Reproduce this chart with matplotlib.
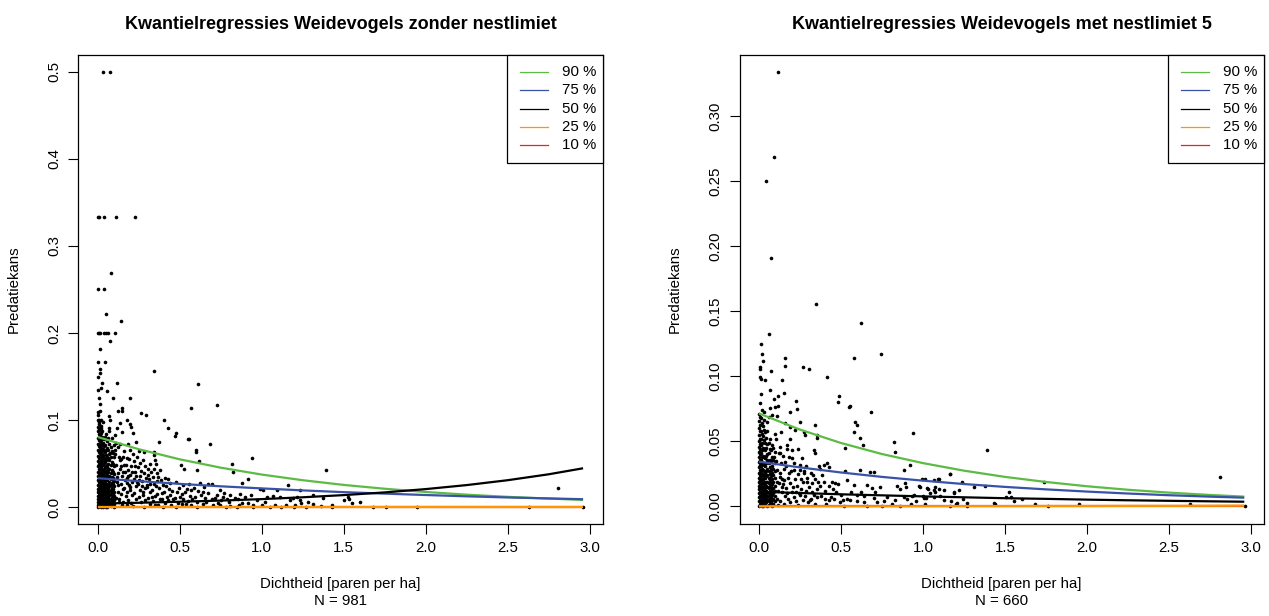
import numpy as np
import matplotlib
matplotlib.use("Agg")
import matplotlib.pyplot as plt

plt.rcParams['font.family'] = ['Liberation Sans', 'DejaVu Sans']

# ---------------------------------------------------------------- data
quantile_labels = ["90 %", "75 %", "50 %", "25 %", "10 %"]
quantile_colors = ["#5cbb45", "#3a52a6", "#000000", "#ff9600", "#e0252e"]

x_ticks = [0.0, 0.5, 1.0, 1.5, 2.0, 2.5, 3.0]
x_tick_labels = ["0.0", "0.5", "1.0", "1.5", "2.0", "2.5", "3.0"]
y_ticks_left = [0.0, 0.1, 0.2, 0.3, 0.4, 0.5]
y_tick_labels_left = ["0.0", "0.1", "0.2", "0.3", "0.4", "0.5"]
y_ticks_right = [0.0, 0.05, 0.10, 0.15, 0.20, 0.25, 0.30]
y_tick_labels_right = ["0.00", "0.05", "0.10", "0.15", "0.20", "0.25", "0.30"]

# fitted quantile curves, sampled along the density axis
curve_x = [0.0, 0.25, 0.5, 0.75, 1.0, 1.25, 1.5, 1.75, 2.0, 2.25, 2.5, 2.75, 2.96]

left_q90 = [0.0806, 0.0666, 0.0550, 0.0454, 0.0375, 0.0310, 0.0256, 0.0212, 0.0175, 0.0144, 0.0119, 0.0099, 0.0084]
left_q75 = [0.0333, 0.0299, 0.0268, 0.0240, 0.0216, 0.0193, 0.0173, 0.0156, 0.0140, 0.0125, 0.0112, 0.0101, 0.0092]
left_q50 = [0.0042, 0.0051, 0.0063, 0.0076, 0.0093, 0.0114, 0.0139, 0.0170, 0.0208, 0.0254, 0.0310, 0.0378, 0.0447]
left_q25 = [0.0, 0.0, 0.0, 0.0, 0.0, 0.0, 0.0, 0.0, 0.0, 0.0, 0.0, 0.0, 0.0]
left_q10 = [0.0, 0.0, 0.0, 0.0, 0.0, 0.0, 0.0, 0.0, 0.0, 0.0, 0.0, 0.0, 0.0]

right_q90 = [0.0715, 0.0591, 0.0488, 0.0403, 0.0333, 0.0275, 0.0227, 0.0188, 0.0155, 0.0128, 0.0106, 0.0088, 0.0075]
right_q75 = [0.0344, 0.0300, 0.0261, 0.0227, 0.0198, 0.0172, 0.0150, 0.0131, 0.0114, 0.0099, 0.0086, 0.0075, 0.0067]
right_q50 = [0.0113, 0.0103, 0.0093, 0.0085, 0.0077, 0.0070, 0.0063, 0.0058, 0.0052, 0.0047, 0.0043, 0.0039, 0.0036]
right_q25 = [0.0, 0.0, 0.0001, 0.0001, 0.0001, 0.0002, 0.0002, 0.0003, 0.0003, 0.0004, 0.0004, 0.0005, 0.0006]
right_q10 = [0.0, 0.0, 0.0, 0.0, 0.0, 0.0, 0.0, 0.0, 0.0, 0.0, 0.0, 0.0, 0.0]

# observations without nest limit (N = 981)
left_upper = [
    (0.030, 0.5), (0.072, 0.5),
    (0.0, 0.3333), (0.01, 0.3333), (0.04, 0.3333), (0.11, 0.3333), (0.23, 0.3333),
    (0.082, 0.269), (0.004, 0.25), (0.036, 0.25), (0.048, 0.222), (0.144, 0.214),
    (0.0, 0.2), (0.006, 0.2), (0.012, 0.2), (0.038, 0.2), (0.048, 0.2), (0.062, 0.2), (0.106, 0.2),
    (0.072, 0.191), (0.014, 0.182), (0.004, 0.167), (0.042, 0.167), (0.014, 0.159), (0.014, 0.154),
    (0.341, 0.156), (0.0, 0.149), (0.026, 0.143), (0.12, 0.143), (0.611, 0.141), (0.02, 0.137),
    (0.004, 0.135), (0.056, 0.133), (0.01, 0.125), (0.096, 0.125), (0.194, 0.125), (0.016, 0.119),
    (0.73, 0.117), (0.571, 0.114), (0.146, 0.114), (0.016, 0.111), (0.126, 0.111), (0.15, 0.110),
    (0.263, 0.108), (0.295, 0.106), (0.004, 0.109), (0.004, 0.106), (0.068, 0.105), (0.072, 0.1),
    (0.0, 0.1), (0.01, 0.1), (0.02, 0.1), (0.18, 0.1), (0.403, 0.1), (0.006, 0.098), (0.032, 0.098),
    (0.134, 0.097), (0.194, 0.095), (0.204, 0.0925), (0.427, 0.0915), (0.0, 0.0925), (0.02, 0.091),
    (0.066, 0.0905),
]
left_spread = [
    (0.12, 0.091), (0.018, 0.089), (0.071, 0.088), (0.146, 0.086), (0.106, 0.083), (0.217, 0.085),
    (0.478, 0.0847), (0.47, 0.0816), (0.549, 0.0778), (0.559, 0.0778), (0.683, 0.072), (0.374, 0.0743),
    (0.183, 0.073), (0.233, 0.075), (0.598, 0.066), (0.598, 0.063), (0.345, 0.063), (0.341, 0.06),
    (0.252, 0.065), (0.28, 0.063), (0.62, 0.053), (0.817, 0.05), (0.939, 0.0567), (0.508, 0.048),
    (0.524, 0.044), (0.604, 0.0425), (0.825, 0.041), (0.878, 0.028), (0.919, 0.032), (0.672, 0.027),
    (0.697, 0.027), (0.624, 0.028), (1.392, 0.0425), (0.35, 0.054), (0.355, 0.05), (0.345, 0.044),
    (0.32, 0.05), (0.258, 0.051), (0.38, 0.0425), (0.36, 0.039), (0.412, 0.033), (0.429, 0.032),
    (0.441, 0.028), (0.522, 0.025), (0.543, 0.021), (0.569, 0.0195), (0.614, 0.019), (0.644, 0.0176),
    (0.726, 0.0138), (0.766, 0.012), (0.807, 0.0138), (0.868, 0.0157), (0.898, 0.012), (0.933, 0.0138),
    (0.99, 0.021), (1.006, 0.02), (1.03, 0.012), (1.091, 0.0195), (1.112, 0.012), (1.173, 0.008),
    (1.193, 0.011), (1.234, 0.008), (1.285, 0.006), (1.315, 0.0138), (1.376, 0.0107), (1.431, 0.0027),
    (1.5, 0.008), (1.53, 0.01), (1.162, 0.025), (1.236, 0.0203), (1.528, 0.0118), (1.549, 0.0054),
    (1.6, 0.0065), (1.071, 0.0126), (1.217, 0.0118), (1.24, 0.0054), (1.203, 0.003), (2.809, 0.0226),
    (0.197, 0.023), (0.238, 0.029), (0.278, 0.0176), (0.299, 0.023), (0.095, 0.031), (0.126, 0.025),
    (0.157, 0.021), (0.177, 0.028), (0.055, 0.046), (0.085, 0.041), (0.116, 0.035), (0.136, 0.054),
    (0.035, 0.058), (0.075, 0.062), (0.106, 0.066), (0.126, 0.069),
    (0.108, 0.061), (0.113, 0.048), (0.121, 0.039), (0.117, 0.029), (0.124, 0.018), (0.111, 0.011),
    (0.128, 0.006), (0.138, 0.072), (0.142, 0.055), (0.133, 0.044), (0.147, 0.036), (0.139, 0.027),
    (0.144, 0.015), (0.131, 0.009), (0.149, 0.003), (0.158, 0.064), (0.163, 0.049), (0.152, 0.04),
    (0.167, 0.031), (0.159, 0.022), (0.171, 0.013), (0.155, 0.006), (0.178, 0.057), (0.183, 0.043),
    (0.176, 0.034), (0.188, 0.026), (0.181, 0.017), (0.186, 0.008), (0.179, 0.002), (0.196, 0.066),
    (0.203, 0.047), (0.199, 0.037), (0.208, 0.029), (0.194, 0.02), (0.211, 0.014), (0.205, 0.005),
    (0.222, 0.053), (0.228, 0.041), (0.219, 0.032), (0.231, 0.024), (0.224, 0.016), (0.236, 0.009),
    (0.218, 0.001), (0.247, 0.046), (0.255, 0.036), (0.244, 0.027), (0.259, 0.02), (0.251, 0.012),
    (0.262, 0.006), (0.276, 0.054), (0.283, 0.039), (0.272, 0.03), (0.288, 0.022), (0.279, 0.014),
    (0.291, 0.008), (0.284, 0.0), (0.305, 0.044), (0.312, 0.032), (0.302, 0.025), (0.318, 0.017),
    (0.309, 0.011), (0.321, 0.004), (0.336, 0.035), (0.343, 0.027), (0.333, 0.02), (0.348, 0.013),
    (0.339, 0.007), (0.351, 0.002), (0.364, 0.03), (0.372, 0.022), (0.361, 0.015), (0.377, 0.009),
    (0.368, 0.003), (0.396, 0.026), (0.404, 0.018), (0.392, 0.01), (0.409, 0.005), (0.399, 0.0),
    (0.436, 0.021), (0.443, 0.014), (0.431, 0.008), (0.448, 0.003), (0.476, 0.029), (0.483, 0.017),
    (0.471, 0.011), (0.488, 0.005), (0.479, 0.0), (0.516, 0.015), (0.523, 0.009), (0.511, 0.004),
    (0.556, 0.027), (0.562, 0.013), (0.551, 0.007), (0.567, 0.002), (0.596, 0.012), (0.603, 0.006),
    (0.607, 0.0), (0.646, 0.023), (0.652, 0.011), (0.641, 0.004), (0.697, 0.009), (0.704, 0.003),
    (0.745, 0.02), (0.752, 0.008), (0.748, 0.002), (0.798, 0.006), (0.806, 0.001), (0.857, 0.009),
    (0.864, 0.003), (0.918, 0.005), (0.97, 0.008), (1.0, 0.003),
    (0.78, 0.0), (0.85, 0.0), (0.95, 0.0), (1.05, 0.0), (1.12, 0.0), (1.2, 0.0), (1.27, 0.0),
    (1.43, 0.0), (1.68, 0.0), (1.76, 0.0), (1.95, 0.0), (2.63, 0.0), (2.96, 0.0),
    (0.114, 0.074), (0.129, 0.058), (0.141, 0.047), (0.153, 0.058), (0.165, 0.041), (0.174, 0.048),
    (0.186, 0.036), (0.192, 0.055), (0.207, 0.04), (0.214, 0.061), (0.226, 0.047), (0.232, 0.036),
    (0.241, 0.058), (0.249, 0.031), (0.266, 0.042), (0.269, 0.024), (0.287, 0.047), (0.294, 0.034),
    (0.308, 0.037), (0.316, 0.027), (0.328, 0.041), (0.331, 0.012), (0.357, 0.024), (0.366, 0.035),
    (0.385, 0.031), (0.389, 0.016), (0.416, 0.024), (0.421, 0.012), (0.455, 0.019), (0.462, 0.009),
    (0.497, 0.022), (0.502, 0.012), (0.535, 0.017), (0.539, 0.004), (0.578, 0.009), (0.588, 0.022),
    (0.632, 0.014), (0.661, 0.006), (0.673, 0.016), (0.714, 0.011), (0.732, 0.005), (0.772, 0.016),
    (0.789, 0.009), (0.835, 0.011), (0.882, 0.005), (0.946, 0.003), (1.02, 0.006), (1.08, 0.003),
    (1.15, 0.002), (1.31, 0.004), (1.36, 0.001),
]
left_core = {
    0.002: [0.087, 0.079, 0.072, 0.066, 0.059, 0.053, 0.047, 0.041, 0.036, 0.031, 0.026, 0.021, 0.017, 0.013, 0.009, 0.006, 0.003, 0.0],
    0.007: [0.095, 0.09, 0.084, 0.077, 0.07, 0.063, 0.057, 0.05, 0.044, 0.039, 0.034, 0.029, 0.024, 0.019, 0.014, 0.01, 0.005, 0.002],
    0.012: [0.083, 0.076, 0.069, 0.062, 0.056, 0.05, 0.044, 0.038, 0.033, 0.028, 0.023, 0.019, 0.015, 0.011, 0.007, 0.004, 0.001],
    0.017: [0.093, 0.08, 0.073, 0.067, 0.06, 0.053, 0.047, 0.041, 0.036, 0.031, 0.026, 0.021, 0.017, 0.013, 0.009, 0.003, 0.0],
    0.022: [0.085, 0.077, 0.07, 0.064, 0.057, 0.051, 0.045, 0.039, 0.034, 0.029, 0.024, 0.02, 0.016, 0.012, 0.008, 0.005, 0.002],
    0.027: [0.088, 0.081, 0.073, 0.066, 0.061, 0.055, 0.049, 0.043, 0.038, 0.033, 0.028, 0.023, 0.018, 0.014, 0.01, 0.006, 0.001],
    0.033: [0.074, 0.067, 0.06, 0.054, 0.048, 0.042, 0.037, 0.032, 0.027, 0.022, 0.018, 0.014, 0.01, 0.006, 0.003, 0.0],
    0.039: [0.078, 0.07, 0.064, 0.057, 0.051, 0.044, 0.039, 0.034, 0.029, 0.024, 0.019, 0.015, 0.011, 0.007, 0.003],
    0.045: [0.081, 0.071, 0.063, 0.052, 0.046, 0.04, 0.035, 0.03, 0.025, 0.02, 0.016, 0.011, 0.007, 0.004, 0.001],
    0.051: [0.084, 0.066, 0.06, 0.054, 0.047, 0.041, 0.036, 0.031, 0.027, 0.022, 0.017, 0.013, 0.009, 0.005, 0.0],
    0.058: [0.076, 0.068, 0.058, 0.049, 0.043, 0.037, 0.031, 0.026, 0.021, 0.016, 0.012, 0.008, 0.004, 0.0],
    0.064: [0.079, 0.066, 0.057, 0.05, 0.041, 0.033, 0.027, 0.022, 0.017, 0.012, 0.007, 0.003],
    0.07: [0.072, 0.061, 0.054, 0.044, 0.036, 0.029, 0.024, 0.019, 0.014, 0.009, 0.005, 0.002],
    0.078: [0.069, 0.058, 0.048, 0.039, 0.032, 0.026, 0.02, 0.015, 0.01, 0.006, 0.001],
    0.085: [0.079, 0.065, 0.052, 0.043, 0.035, 0.028, 0.022, 0.017, 0.012, 0.007, 0.003],
    0.092: [0.062, 0.05, 0.041, 0.033, 0.027, 0.021, 0.015, 0.01, 0.005, 0.002],
    0.1: [0.071, 0.058, 0.047, 0.038, 0.03, 0.024, 0.018, 0.013, 0.008, 0.004, 0.0],
}

# observations with nest limit 5 (N = 660)
right_upper = [
    (0.118, 0.3345), (0.089, 0.269), (0.043, 0.2506), (0.075, 0.191), (0.35, 0.156), (0.624, 0.141),
    (0.059, 0.133), (0.014, 0.125), (0.02, 0.1176), (0.022, 0.1117), (0.157, 0.114), (0.581, 0.114),
    (0.744, 0.117), (0.006, 0.107), (0.006, 0.1058), (0.159, 0.1083), (0.27, 0.107), (0.303, 0.1055),
    (0.073, 0.104), (0.413, 0.0999), (0.008, 0.0999), (0.01, 0.0978), (0.037, 0.097), (0.14, 0.097),
    (0.01, 0.0863), (0.069, 0.0894), (0.089, 0.0824), (0.116, 0.0853), (0.15, 0.087), (0.226, 0.0814),
    (0.486, 0.0847), (0.48, 0.0806), (0.551, 0.0768), (0.557, 0.0773), (0.008, 0.0794), (0.067, 0.0755),
    (0.116, 0.077), (0.232, 0.0747),
]
right_spread = [
    (0.1, 0.0768), (0.018, 0.0742), (0.028, 0.073), (0.187, 0.0724), (0.685, 0.0724), (0.059, 0.069),
    (0.079, 0.0704), (0.11, 0.0697), (0.028, 0.0665), (0.049, 0.0653), (0.161, 0.0645), (0.252, 0.0653),
    (0.191, 0.0614), (0.222, 0.0588), (0.343, 0.0627), (0.272, 0.0576), (0.283, 0.055), (0.354, 0.055),
    (0.354, 0.0524), (0.589, 0.0653), (0.598, 0.0627), (0.577, 0.0576), (0.618, 0.0524), (0.634, 0.0473),
    (0.941, 0.0563), (0.821, 0.0499), (0.827, 0.0422), (0.923, 0.032), (0.882, 0.028), (1.394, 0.0435),
    (0.526, 0.0447), (0.333, 0.0435), (0.343, 0.0409), (0.171, 0.0473), (0.201, 0.0435), (0.13, 0.0409),
    (0.181, 0.0383), (0.089, 0.0383), (0.049, 0.0358), (0.024, 0.0332), (0.415, 0.0332), (0.425, 0.0306),
    (0.394, 0.0319), (0.364, 0.0314), (0.374, 0.0286), (0.528, 0.0276), (0.618, 0.028), (0.679, 0.0268),
    (0.699, 0.0268), (0.252, 0.028), (0.272, 0.0255), (0.293, 0.0191), (0.323, 0.0178), (0.394, 0.0191),
    (0.445, 0.0191), (0.465, 0.0178), (0.537, 0.0204), (0.577, 0.0165), (0.659, 0.0165), (0.689, 0.0145),
    (0.74, 0.0147), (0.841, 0.0158), (0.862, 0.0132), (0.974, 0.0158), (1.024, 0.014), (1.075, 0.0147),
    (1.065, 0.0204), (1.095, 0.0209), (1.126, 0.0127), (1.187, 0.0114), (1.238, 0.0191), (1.309, 0.0153),
    (1.38, 0.0158), (1.167, 0.025), (0.13, 0.0229), (0.15, 0.0204), (0.12, 0.0178), (0.14, 0.0153),
    (0.171, 0.0101), (0.211, 0.0076), (0.252, 0.0088), (0.313, 0.005), (0.354, 0.0076), (0.425, 0.005),
    (0.455, 0.006), (0.496, 0.0037), (0.557, 0.005), (0.598, 0.0088), (0.638, 0.0037), (0.699, 0.0063),
    (0.78, 0.0076), (0.831, 0.005), (0.882, 0.0076), (0.943, 0.0088), (1.004, 0.0063), (1.065, 0.0076),
    (1.126, 0.005), (1.207, 0.0024), (1.268, 0.0024), (1.431, 0.0024),
    (2.813, 0.0224), (0.89, 0.0178), (0.898, 0.0153), (0.994, 0.0214), (1.01, 0.0209), (0.98, 0.0153),
    (1.096, 0.0209), (1.165, 0.0247), (1.74, 0.0186), (1.034, 0.0132), (1.065, 0.0127), (1.096, 0.0132),
    (1.075, 0.0114), (1.045, 0.0101), (1.106, 0.0083), (0.933, 0.0083), (0.959, 0.0045), (1.0, 0.0083),
    (1.02, 0.0063), (1.187, 0.0101), (1.22, 0.0127), (1.244, 0.0055), (1.173, 0.0045), (1.528, 0.0114),
    (1.504, 0.007), (1.537, 0.0076), (1.553, 0.0045), (1.602, 0.0055), (1.437, 0.0017), (1.683, 0.0017),
    (1.953, 0.0017), (2.63, 0.0017), (2.965, 0.0), (0.902, 0.0058), (1.012, 0.002), (0.927, 0.002),
    (1.203, 0.002), (1.163, 0.0), (1.268, 0.0), (1.766, 0.0),
    (0.105, 0.035), (0.112, 0.028), (0.108, 0.019), (0.117, 0.012), (0.111, 0.006), (0.119, 0.001),
    (0.126, 0.046), (0.134, 0.033), (0.128, 0.026), (0.138, 0.011), (0.131, 0.004), (0.146, 0.039),
    (0.155, 0.029), (0.149, 0.017), (0.158, 0.008), (0.152, 0.002), (0.168, 0.031), (0.175, 0.022),
    (0.166, 0.014), (0.179, 0.006), (0.189, 0.052), (0.196, 0.027), (0.187, 0.018), (0.199, 0.011),
    (0.192, 0.003), (0.213, 0.033), (0.219, 0.021), (0.208, 0.015), (0.224, 0.004), (0.236, 0.044),
    (0.241, 0.025), (0.233, 0.016), (0.246, 0.01), (0.239, 0.001), (0.262, 0.037), (0.268, 0.019),
    (0.259, 0.013), (0.271, 0.005), (0.288, 0.031), (0.296, 0.022), (0.285, 0.012), (0.301, 0.003),
    (0.318, 0.026), (0.326, 0.011), (0.315, 0.006), (0.345, 0.021), (0.352, 0.013), (0.34, 0.002),
    (0.372, 0.016), (0.381, 0.008), (0.4, 0.012), (0.41, 0.002), (0.43, 0.016), (0.44, 0.007),
    (0.47, 0.011), (0.5, 0.009), (0.52, 0.0), (0.54, 0.006), (0.6, 0.004), (0.62, 0.011),
    (0.66, 0.0), (0.72, 0.003), (0.75, 0.0), (0.81, 0.002), (0.86, 0.0),
    (0.103, 0.052), (0.121, 0.041), (0.137, 0.057), (0.143, 0.021), (0.161, 0.034), (0.17, 0.044),
    (0.183, 0.026), (0.203, 0.037), (0.216, 0.028), (0.228, 0.011), (0.249, 0.032), (0.256, 0.021),
    (0.276, 0.027), (0.281, 0.008), (0.305, 0.015), (0.331, 0.024), (0.336, 0.009), (0.36, 0.019),
    (0.386, 0.024), (0.405, 0.006), (0.451, 0.013), (0.482, 0.017), (0.512, 0.005), (0.561, 0.011),
    (0.643, 0.008), (0.706, 0.011), (0.764, 0.004),
]
right_core = {
    0.003: [0.071, 0.066, 0.06, 0.055, 0.05, 0.046, 0.042, 0.038, 0.034, 0.03, 0.026, 0.022, 0.019, 0.016, 0.013, 0.01, 0.007, 0.004, 0.0],
    0.008: [0.069, 0.063, 0.058, 0.052, 0.048, 0.044, 0.04, 0.036, 0.032, 0.028, 0.024, 0.02, 0.017, 0.014, 0.011, 0.008, 0.005, 0.002],
    0.013: [0.068, 0.058, 0.052, 0.047, 0.041, 0.036, 0.031, 0.027, 0.023, 0.02, 0.017, 0.014, 0.011, 0.008, 0.005, 0.002],
    0.019: [0.064, 0.056, 0.049, 0.043, 0.038, 0.033, 0.029, 0.025, 0.021, 0.018, 0.015, 0.012, 0.009, 0.006, 0.003, 0.0],
    0.025: [0.062, 0.054, 0.045, 0.039, 0.033, 0.028, 0.024, 0.021, 0.018, 0.015, 0.012, 0.009, 0.006, 0.003, 0.0],
    0.031: [0.059, 0.051, 0.044, 0.038, 0.032, 0.027, 0.023, 0.019, 0.016, 0.013, 0.01, 0.007, 0.004, 0.001],
    0.038: [0.057, 0.049, 0.043, 0.037, 0.031, 0.026, 0.022, 0.018, 0.014, 0.011, 0.007, 0.004, 0.001],
    0.045: [0.053, 0.045, 0.039, 0.033, 0.027, 0.023, 0.019, 0.016, 0.012, 0.009, 0.006, 0.003],
    0.052: [0.058, 0.048, 0.04, 0.034, 0.029, 0.024, 0.019, 0.015, 0.011, 0.008, 0.005, 0.0],
    0.059: [0.049, 0.041, 0.033, 0.027, 0.022, 0.018, 0.014, 0.01, 0.007, 0.004, 0.001],
    0.066: [0.052, 0.044, 0.036, 0.03, 0.025, 0.02, 0.016, 0.012, 0.009, 0.006, 0.002],
    0.073: [0.043, 0.035, 0.028, 0.023, 0.019, 0.015, 0.011, 0.007, 0.003],
    0.08: [0.047, 0.038, 0.031, 0.026, 0.021, 0.017, 0.013, 0.009, 0.005, 0.0],
    0.088: [0.045, 0.036, 0.029, 0.024, 0.019, 0.014, 0.01, 0.006, 0.002],
    0.096: [0.056, 0.042, 0.033, 0.027, 0.022, 0.016, 0.012, 0.008, 0.004],
}


def collect(pairs_lists, core):
    xs, ys = [], []
    for pairs in pairs_lists:
        for x, y in pairs:
            xs.append(x)
            ys.append(y)
    for x, col in core.items():
        for y in col:
            xs.append(x)
            ys.append(y)
    return np.array(xs), np.array(ys)


# ---------------------------------------------------------------- layout
W_PX, H_PX = 1269, 616
AX_W, AX_H = 524.2, 469.5
AX_BOTTOM = 524.2
FS = 10.8

fig = plt.figure(figsize=(W_PX / 100, H_PX / 100), dpi=100)
ax_l = fig.add_axes([78.3 / W_PX, (H_PX - AX_BOTTOM) / H_PX, AX_W / W_PX, AX_H / H_PX])
ax_r = fig.add_axes([739.5 / W_PX, (H_PX - AX_BOTTOM) / H_PX, AX_W / W_PX, AX_H / H_PX])


def draw_panel(ax, xs, ys, curves, ylim, yticks, ylabels, title, n_text):
    ax.plot(xs, ys, linestyle='none', marker='o', ms=2.6, mew=0, color='black', zorder=2)
    # draw order: 90, 75, 50, then 10 beneath 25
    for idx in [0, 1, 2, 4, 3]:
        ax.plot(curve_x, curves[idx], color=quantile_colors[idx], lw=1.6,
                solid_capstyle='butt', zorder=3)

    ax.set_xlim(-0.1184, 3.0784)
    ax.set_ylim(*ylim)
    ax.set_xticks(x_ticks)
    ax.set_xticklabels(x_tick_labels)
    ax.set_yticks(yticks)
    ax.set_yticklabels(ylabels, rotation=90, va='center')
    ax.tick_params(axis='both', direction='out', length=7, width=0.8,
                   labelsize=FS, colors='black')
    ax.tick_params(axis='x', pad=5)
    ax.tick_params(axis='y', pad=5)
    for sp in ax.spines.values():
        sp.set_linewidth(0.9)
        sp.set_color('black')

    ax.text(0.5, 1 + 30.5 / AX_H, title, transform=ax.transAxes, ha='center',
            va='center', fontsize=13, fontweight='bold')
    ax.text(0.5, -60.0 / AX_H, "Dichtheid [paren per ha]", transform=ax.transAxes,
            ha='center', va='center', fontsize=FS)
    ax.text(0.5, -77.0 / AX_H, n_text, transform=ax.transAxes,
            ha='center', va='center', fontsize=FS)
    ax.text(-64.5 / AX_W, 0.5, "Predatiekans", transform=ax.transAxes,
            ha='center', va='center', rotation=90, fontsize=FS)

    # legend box in the top-right corner of the plot region
    box_w, box_h = 95.8, 108.6
    ax.add_patch(plt.Rectangle((1 - box_w / AX_W, 1 - box_h / AX_H), box_w / AX_W, box_h / AX_H,
                               transform=ax.transAxes, facecolor='white', edgecolor='black',
                               lw=0.9, zorder=5, clip_on=False))
    row_offsets = [17.3, 35.6, 53.8, 72.1, 90.3]
    for lab, col, off in zip(quantile_labels, quantile_colors, row_offsets):
        yy = 1 - off / AX_H
        ax.plot([1 - 82.5 / AX_W, 1 - 54.5 / AX_W], [yy, yy], transform=ax.transAxes,
                color=col, lw=0.9, zorder=6, clip_on=False)
        ax.text(1 - 40.5 / AX_W, yy, lab, transform=ax.transAxes, ha='left',
                va='center', fontsize=FS, zorder=6)


xl, yl = collect([left_upper, left_spread], left_core)
xr, yr = collect([right_upper, right_spread], right_core)

draw_panel(ax_l, xl, yl, [left_q90, left_q75, left_q50, left_q25, left_q10],
           (-0.0195, 0.5195), y_ticks_left, y_tick_labels_left,
           "Kwantielregressies Weidevogels zonder nestlimiet", "N = 981")
draw_panel(ax_r, xr, yr, [right_q90, right_q75, right_q50, right_q25, right_q10],
           (-0.0137, 0.3475), y_ticks_right, y_tick_labels_right,
           "Kwantielregressies Weidevogels met nestlimiet 5", "N = 660")

fig.savefig("out.png", dpi=100)
